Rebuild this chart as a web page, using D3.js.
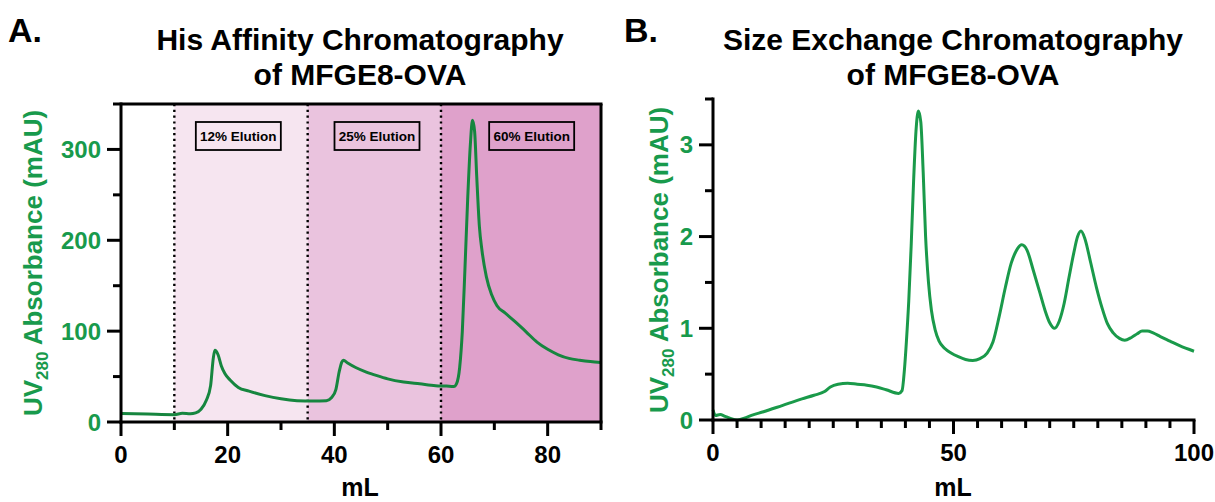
<!DOCTYPE html>
<html>
<head>
<meta charset="utf-8">
<script src="https://cdn.jsdelivr.net/npm/d3@7"></script>
<style>
  html, body { margin: 0; padding: 0; background: #fff; }
  svg { display: block; font-family: "Liberation Sans", Arial, sans-serif; font-weight: bold; }
</style>
</head>
<body>
<svg id="chart" width="1215" height="502"></svg>
<script>
// ---------- DATA ----------
// Panel A: His affinity chromatography (mL, mAU)
const affX = [0, 5, 10, 11.5, 13, 14, 15, 16, 16.8, 17.3, 17.6, 18.2, 18.8, 19.5, 20.5, 22, 24, 27, 30, 33, 36, 38.5, 39.5, 40.3, 40.9, 41.4, 41.7, 42.5, 44, 46, 48, 50, 53, 56, 59, 61, 62.4, 62.9, 63.5, 64, 64.5, 65, 65.5, 65.9, 66.3, 66.7, 67.2, 67.7, 68.5, 69.5, 70.5, 72, 74, 76, 78, 80, 82, 84, 86, 88, 90];
const affY = [9.5, 8.7, 8, 9.5, 9, 10, 14, 24, 40, 70, 79, 74, 62, 53, 46, 38, 34, 29, 25.5, 23.5, 23, 23.5, 27, 36, 55, 66, 68, 65, 60, 55, 51, 47.5, 44, 42, 40, 39.5, 39, 42, 60, 100, 170, 245, 305, 332, 320, 270, 215, 188, 160, 140, 128, 120, 110, 99, 88, 80, 74, 70, 68, 66.5, 65.5];
const affRegionStart = [10, 35, 60];
const affRegionEnd = [35, 60, 90];
const affRegionLabels = ["12% Elution", "25% Elution", "60% Elution"];
const affLabelCenters = [22, 48, 77];
const affDividers = [10, 35, 60];
const affXTicks = [0, 10, 20, 30, 40, 50, 60, 70, 80, 90];
const affXLabels = [0, 20, 40, 60, 80];
const affYTicks = [0, 50, 100, 150, 200, 250, 300, 350];
const affYLabels = [0, 100, 200, 300];

// Panel B: size exchange chromatography (mL, mAU)
const secX = [0, 0.5, 1.5, 2.5, 3.5, 5, 6.5, 8, 10.5, 14.5, 18.5, 21, 23.2, 24.4, 26, 28, 30, 32, 34, 36, 38.6, 39.3, 39.8, 40.2, 40.7, 41.2, 41.7, 42.2, 42.7, 43.2, 43.7, 44.2, 44.8, 45.4, 46.2, 47, 48.2, 49.5, 51, 52.5, 54, 55.5, 57, 58.2, 59.5, 60.8, 62, 63, 64.2, 65.3, 66.6, 68, 69, 70, 71, 72, 73, 74, 75, 75.8, 76.5, 77.3, 78.5, 79.7, 80.9, 82, 83.2, 84.5, 85.6, 87, 88.2, 89.2, 90.3, 91.5, 93, 95, 97, 100];
const secY = [0.11, 0.05, 0.06, 0.04, 0.02, 0.0, 0.02, 0.05, 0.09, 0.16, 0.23, 0.27, 0.31, 0.36, 0.39, 0.40, 0.39, 0.38, 0.36, 0.33, 0.29, 0.32, 0.55, 0.85, 1.3, 1.9, 2.6, 3.15, 3.37, 3.25, 2.7, 2.0, 1.5, 1.2, 0.98, 0.86, 0.78, 0.73, 0.69, 0.66, 0.65, 0.67, 0.73, 0.85, 1.13, 1.45, 1.71, 1.84, 1.91, 1.85, 1.63, 1.38, 1.2, 1.06, 1.0, 1.08, 1.27, 1.55, 1.82, 2.0, 2.06, 1.98, 1.72, 1.45, 1.22, 1.05, 0.95, 0.89, 0.87, 0.9, 0.94, 0.97, 0.97, 0.95, 0.91, 0.86, 0.81, 0.75];
const secXTicks = d3.range(0, 101, 5);
const secXLabels = [0, 50, 100];
const secYTicks = [0, 0.5, 1, 1.5, 2, 2.5, 3, 3.5];
const secYLabels = [0, 1, 2, 3];

const titleA = ["His Affinity Chromatography", "of MFGE8-OVA"];
const titleB = ["Size Exchange Chromatography", "of MFGE8-OVA"];

// ---------- STYLE ----------
const regionColors = ["#f6e5f0", "#eac3de", "#dfa1cb"];
const lineGreenA = "#16863f";
const lineGreenB = "#1a9a4a";
const textGreen = "#189a4c";

const svg = d3.select("#chart");

function yLabel(g, x, y) {
  const t = g.append("text")
    .attr("transform", `translate(${x},${y}) rotate(-90)`)
    .attr("text-anchor", "middle")
    .attr("fill", textGreen)
    .attr("font-size", 26);
  t.append("tspan").text("UV");
  t.append("tspan").attr("dy", 6).attr("font-size", 17).text("280");
  t.append("tspan").attr("dy", -6).text(" Absorbance (mAU)");
}

function axes(opts) {
  const { x, y, xTicks, xLabels, yTicks, yLabels, majorX, majorY } = opts;
  const g = svg.append("g");
  const [x0, x1] = x.range();
  const [y0, y1] = y.range();
  g.selectAll("line.xt").data(xTicks).join("line")
    .attr("x1", d => x(d)).attr("x2", d => x(d))
    .attr("y1", y0).attr("y2", d => y0 + (majorX.includes(d) ? 14 : 8))
    .attr("stroke", "#000").attr("stroke-width", 3);
  g.selectAll("text.xl").data(xLabels).join("text")
    .attr("x", d => x(d)).attr("y", y0 + 41)
    .attr("text-anchor", "middle").attr("font-size", 24).attr("fill", "#000")
    .text(d => d);
  g.selectAll("line.yt").data(yTicks).join("line")
    .attr("x1", x0).attr("x2", d => x0 - (majorY.includes(d) ? 14 : 8))
    .attr("y1", d => y(d)).attr("y2", d => y(d))
    .attr("stroke", "#000").attr("stroke-width", 3);
  g.selectAll("text.yl").data(yLabels).join("text")
    .attr("x", x0 - 20).attr("y", d => y(d)).attr("dy", "0.36em")
    .attr("text-anchor", "end").attr("font-size", 24).attr("fill", textGreen)
    .text(d => d);
  g.append("line").attr("x1", x0).attr("x2", x0).attr("y1", y0 + 1.5).attr("y2", y1 - 1.5)
    .attr("stroke", "#000").attr("stroke-width", 3);
  g.append("line").attr("x1", x0 - 1.5).attr("x2", x1 + 1.5).attr("y1", y0).attr("y2", y0)
    .attr("stroke", "#000").attr("stroke-width", 3);
  return g;
}

// ---------- PANEL A ----------
const xA = d3.scaleLinear().domain([0, 90]).range([121, 601]);
const yA = d3.scaleLinear().domain([0, 350]).range([422, 104]);

const gA = svg.append("g");
gA.selectAll("rect.reg").data(affRegionStart).join("rect")
  .attr("x", d => xA(d)).attr("y", yA(350))
  .attr("width", (d, i) => xA(affRegionEnd[i]) - xA(d))
  .attr("height", yA(0) - yA(350))
  .attr("fill", (d, i) => regionColors[i]);

gA.selectAll("line.div").data(affDividers).join("line")
  .attr("x1", d => xA(d)).attr("x2", d => xA(d))
  .attr("y1", yA(350)).attr("y2", yA(0))
  .attr("stroke", "#000").attr("stroke-width", 2.4)
  .attr("stroke-dasharray", "2.2 3.6");

const boxW = 85, boxH = 28, boxTop = 122;
affLabelCenters.forEach((c, i) => {
  gA.append("rect").attr("x", xA(c) - boxW / 2).attr("y", boxTop)
    .attr("width", boxW).attr("height", boxH)
    .attr("fill", "none").attr("stroke", "#000").attr("stroke-width", 1.8);
  gA.append("text").attr("x", xA(c)).attr("y", boxTop + boxH / 2).attr("dy", "0.36em")
    .attr("text-anchor", "middle").attr("font-size", 13.5).attr("fill", "#000")
    .text(affRegionLabels[i]);
});

gA.append("path")
  .datum(affX.map((v, i) => [v, affY[i]]))
  .attr("d", d3.line().x(d => xA(d[0])).y(d => yA(d[1])).curve(d3.curveMonotoneX))
  .attr("fill", "none").attr("stroke", lineGreenA).attr("stroke-width", 3)
  .attr("stroke-linejoin", "round");

gA.append("line").attr("x1", xA(0)).attr("x2", xA(90) + 1.5).attr("y1", yA(350)).attr("y2", yA(350))
  .attr("stroke", "#000").attr("stroke-width", 3);
gA.append("line").attr("x1", xA(90)).attr("x2", xA(90)).attr("y1", yA(350)).attr("y2", yA(0))
  .attr("stroke", "#000").attr("stroke-width", 3);

axes({ x: xA, y: yA, xTicks: affXTicks, xLabels: affXLabels, yTicks: affYTicks, yLabels: affYLabels,
  majorX: affXLabels, majorY: affYLabels });

svg.append("text").attr("x", 360).attr("y", 496).attr("text-anchor", "middle")
  .attr("font-size", 25).text("mL");
yLabel(svg, 42, 263);

svg.selectAll("text.tA").data(titleA).join("text")
  .attr("x", 360).attr("y", (d, i) => 50 + i * 35)
  .attr("text-anchor", "middle").attr("font-size", 30).text(d => d);
svg.append("text").attr("x", 8).attr("y", 42).attr("font-size", 34).text("A.");

// ---------- PANEL B ----------
const xB = d3.scaleLinear().domain([0, 100]).range([713, 1194]);
const yB = d3.scaleLinear().domain([0, 3.5]).range([420, 99]);

svg.append("path")
  .datum(secX.map((v, i) => [v, secY[i]]))
  .attr("d", d3.line().x(d => xB(d[0])).y(d => yB(d[1])).curve(d3.curveMonotoneX))
  .attr("fill", "none").attr("stroke", lineGreenB).attr("stroke-width", 3)
  .attr("stroke-linejoin", "round");

axes({ x: xB, y: yB, xTicks: secXTicks, xLabels: secXLabels, yTicks: secYTicks, yLabels: secYLabels,
  majorX: secXLabels, majorY: secYLabels });

svg.append("text").attr("x", 953).attr("y", 496).attr("text-anchor", "middle")
  .attr("font-size", 25).text("mL");
yLabel(svg, 668, 260);

svg.selectAll("text.tB").data(titleB).join("text")
  .attr("x", 953).attr("y", (d, i) => 50 + i * 35)
  .attr("text-anchor", "middle").attr("font-size", 30).text(d => d);
svg.append("text").attr("x", 624).attr("y", 42).attr("font-size", 34).text("B.");
</script>
</body>
</html>
